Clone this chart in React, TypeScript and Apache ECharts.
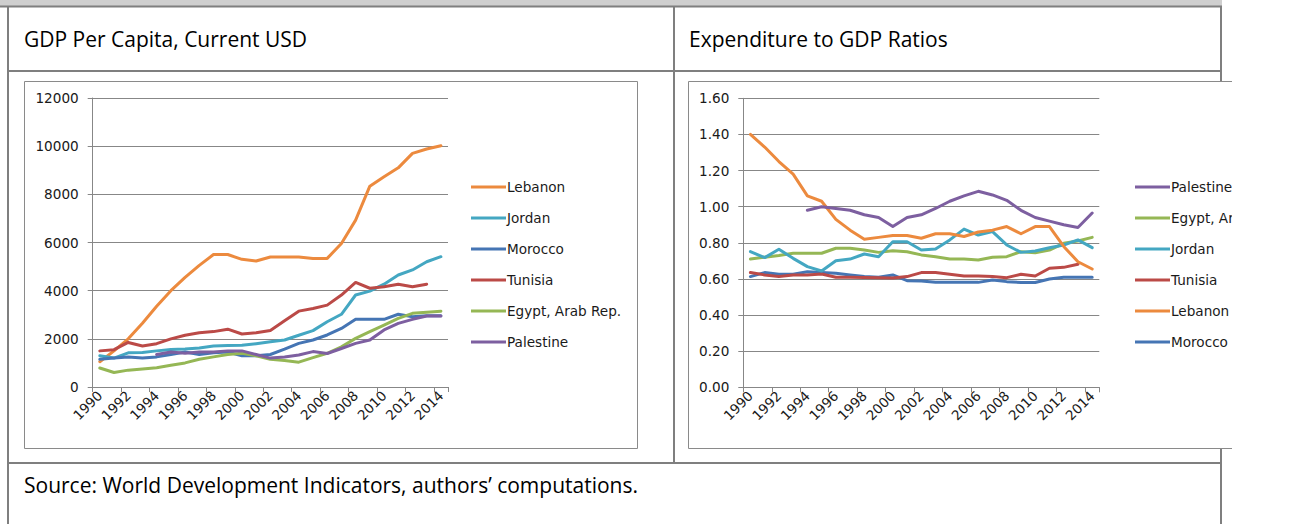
import React, { useEffect, useRef } from "react";
import * as echarts from "echarts";

const years = [
  "1990", "1991", "1992", "1993", "1994", "1995", "1996", "1997", "1998", "1999",
  "2000", "2001", "2002", "2003", "2004", "2005", "2006", "2007", "2008", "2009",
  "2010", "2011", "2012", "2013", "2014",
];

// GDP per capita, current USD
const lebanonGdp = [1050, 1500, 2000, 2650, 3350, 4000, 4550, 5050, 5500, 5500, 5300, 5230, 5400, 5400, 5400, 5340, 5340, 5960, 6930, 8340, 8730, 9100, 9700, 9880, 10020];
const jordanGdp = [1300, 1200, 1420, 1430, 1500, 1560, 1580, 1620, 1700, 1720, 1730, 1800, 1880, 1950, 2150, 2340, 2710, 3020, 3820, 3980, 4270, 4650, 4860, 5200, 5410];
const moroccoGdp = [1150, 1200, 1250, 1200, 1250, 1350, 1450, 1350, 1420, 1450, 1300, 1300, 1350, 1570, 1810, 1950, 2160, 2430, 2810, 2810, 2810, 3020, 2920, 2960, 2960];
const tunisiaGdp = [1500, 1550, 1850, 1700, 1800, 2000, 2150, 2250, 2300, 2400, 2200, 2250, 2350, 2750, 3150, 3260, 3400, 3820, 4340, 4100, 4160, 4270, 4160, 4270, null];
const egyptGdp = [790, 600, 700, 750, 800, 900, 1000, 1150, 1250, 1350, 1400, 1300, 1150, 1100, 1030, 1220, 1400, 1670, 2020, 2300, 2570, 2850, 3060, 3100, 3150];
const palestineGdp = [null, null, null, null, 1350, 1450, 1400, 1450, 1450, 1500, 1500, 1350, 1200, 1250, 1330, 1470, 1390, 1600, 1810, 1950, 2370, 2640, 2810, 2950, 2950];

// Expenditure to GDP ratios
const palestineExp = [null, null, null, null, 0.98, 1.0, 0.99, 0.98, 0.955, 0.94, 0.89, 0.94, 0.955, 0.99, 1.03, 1.06, 1.085, 1.065, 1.035, 0.98, 0.94, 0.92, 0.9, 0.885, 0.965];
const egyptExp = [0.71, 0.72, 0.73, 0.742, 0.742, 0.742, 0.77, 0.77, 0.76, 0.747, 0.756, 0.75, 0.733, 0.723, 0.71, 0.71, 0.705, 0.72, 0.723, 0.751, 0.745, 0.76, 0.797, 0.81, 0.83];
const jordanExp = [0.751, 0.718, 0.764, 0.714, 0.668, 0.644, 0.701, 0.71, 0.738, 0.723, 0.806, 0.806, 0.76, 0.766, 0.816, 0.876, 0.843, 0.862, 0.788, 0.747, 0.755, 0.773, 0.788, 0.816, 0.773];
const tunisiaExp = [0.635, 0.622, 0.613, 0.622, 0.622, 0.627, 0.609, 0.609, 0.608, 0.606, 0.605, 0.613, 0.635, 0.635, 0.626, 0.616, 0.616, 0.613, 0.607, 0.626, 0.616, 0.659, 0.664, 0.681, null];
const lebanonExp = [1.4, 1.33, 1.25, 1.18, 1.06, 1.03, 0.93, 0.87, 0.82, 0.83, 0.84, 0.84, 0.825, 0.85, 0.85, 0.835, 0.86, 0.87, 0.89, 0.85, 0.89, 0.89, 0.78, 0.695, 0.655];
const moroccoExp = [0.613, 0.635, 0.626, 0.626, 0.64, 0.635, 0.631, 0.622, 0.613, 0.609, 0.622, 0.59, 0.588, 0.581, 0.581, 0.581, 0.581, 0.594, 0.585, 0.58, 0.58, 0.6, 0.609, 0.609, 0.609];

const leftLegend = ["Lebanon", "Jordan", "Morocco", "Tunisia", "Egypt, Arab Rep.", "Palestine"];
const rightLegend = ["Palestine", "Egypt, Arab Rep.", "Jordan", "Tunisia", "Lebanon", "Morocco"];

const colors: Record<string, string> = {
  Lebanon: "#EC8A3E",
  Jordan: "#44A7C2",
  Morocco: "#4575B4",
  Tunisia: "#BB4A47",
  "Egypt, Arab Rep.": "#95B755",
  Palestine: "#7D5FA0",
};

const leftSeries: [string, (number | null)[]][] = [
  ["Lebanon", lebanonGdp],
  ["Jordan", jordanGdp],
  ["Morocco", moroccoGdp],
  ["Tunisia", tunisiaGdp],
  ["Egypt, Arab Rep.", egyptGdp],
  ["Palestine", palestineGdp],
];
const rightSeries: [string, (number | null)[]][] = [
  ["Morocco", moroccoExp],
  ["Tunisia", tunisiaExp],
  ["Egypt, Arab Rep.", egyptExp],
  ["Jordan", jordanExp],
  ["Lebanon", lebanonExp],
  ["Palestine", palestineExp],
];

const FONT = "DejaVu Sans";
const FS = 13.6;
const GRID_C = "#878787";
const TABLE_C = "#7f7f7f";

function xAxis(gridIndex: number) {
  return {
    type: "category",
    gridIndex,
    data: years,
    boundaryGap: true,
    axisLine: { show: true, lineStyle: { color: GRID_C, width: 1 } },
    axisTick: { show: true, interval: 1, length: 5, lineStyle: { color: GRID_C } },
    axisLabel: { interval: 1, rotate: 45, fontSize: FS, fontFamily: FONT, color: "#1a1a1a", margin: 6 },
    splitLine: { show: false },
  };
}

function yAxis(gridIndex: number, max: number, interval: number, digits: number) {
  return {
    type: "value",
    gridIndex,
    min: 0,
    max,
    interval,
    axisLine: { show: true, lineStyle: { color: GRID_C, width: 1 } },
    axisTick: { show: true, length: 5, lineStyle: { color: GRID_C } },
    axisLabel: {
      fontSize: FS,
      fontFamily: FONT,
      color: "#1a1a1a",
      margin: 14,
      formatter: (v: number) => v.toFixed(digits),
    },
    splitLine: { show: true, lineStyle: { color: GRID_C, width: 1 } },
  };
}

function legend(left: number, data: string[]) {
  return {
    orient: "vertical",
    left,
    top: 174,
    data,
    icon: "rect",
    itemWidth: 35,
    itemHeight: 3,
    itemGap: 15,
    selectedMode: false,
    textStyle: { fontSize: FS, fontFamily: FONT, color: "#1a1a1a", lineHeight: 16, padding: [0, 0, 0, -4] },
  };
}

function line(x1: number, y1: number, x2: number, y2: number, w = 2, c = TABLE_C) {
  return { type: "line", shape: { x1, y1, x2, y2 }, style: { stroke: c, lineWidth: w } };
}

function txt(x: number, y: number, text: string) {
  return {
    type: "text",
    x,
    y,
    style: { text, fontSize: 21, fontFamily: "Open Sans", fill: "#000", verticalAlign: "middle" },
  };
}

export default function App() {
  const ref = useRef<HTMLDivElement>(null);
  useEffect(() => {
    const chart = echarts.init(ref.current!, null, { renderer: "svg" });
    const series: any[] = [];
    leftSeries.forEach(([name, data]) =>
      series.push({
        type: "line",
        name,
        xAxisIndex: 0,
        yAxisIndex: 0,
        data,
        symbol: "none",
        lineStyle: { width: 3, color: colors[name], join: "round", cap: "round" },
        itemStyle: { color: colors[name] },
      })
    );
    rightSeries.forEach(([name, data]) =>
      series.push({
        type: "line",
        name,
        xAxisIndex: 1,
        yAxisIndex: 1,
        data,
        symbol: "none",
        lineStyle: { width: 3, color: colors[name], join: "round", cap: "round" },
        itemStyle: { color: colors[name] },
      })
    );
    chart.setOption({
      animation: false,
      backgroundColor: "#fff",
      grid: [
        { left: 92.7, top: 98, width: 355.3, height: 289 },
        { left: 743.3, top: 98.3, width: 356, height: 289 },
      ],
      xAxis: [xAxis(0), xAxis(1)],
      yAxis: [yAxis(0, 12000, 2000, 0), yAxis(1, 1.6, 0.2, 2)],
      legend: [legend(466, leftLegend), legend(1130, rightLegend)],
      series,
      graphic: [
        { type: "rect", shape: { x: 0, y: 0, width: 1222, height: 6 }, style: { fill: "#cfcfcf" } },
        line(0, 6.5, 1222, 6.5),
        line(8, 6, 8, 524),
        line(674, 6, 674, 463),
        line(1221, 6, 1221, 81),
        line(1221, 449, 1221, 524),
        line(8, 71, 1222, 71),
        line(8, 463, 1222, 463),
        txt(24, 39, "GDP Per Capita, Current USD"),
        txt(689, 39, "Expenditure to GDP Ratios"),
        txt(24, 485, "Source: World Development Indicators, authors\u2019 computations."),
        {
          type: "rect",
          shape: { x: 24.5, y: 81.5, width: 613, height: 367 },
          style: { fill: "none", stroke: "#8a8a8a", lineWidth: 1 },
        },
        {
          type: "rect",
          z: 100,
          shape: { x: 1232, y: 76, width: 68, height: 378 },
          style: { fill: "#fff" },
        },
        {
          type: "polyline",
          z: 101,
          shape: { points: [[1232, 81.5], [688.5, 81.5], [688.5, 448.5], [1232, 448.5]] },
          style: { fill: "none", stroke: "#8a8a8a", lineWidth: 1 },
        },
      ],
    });
    return () => chart.dispose();
  }, []);
  return (
    <div
      ref={ref}
      style={{ position: "fixed", left: 0, top: 0, width: 1300, height: 524, background: "#fff" }}
    />
  );
}
